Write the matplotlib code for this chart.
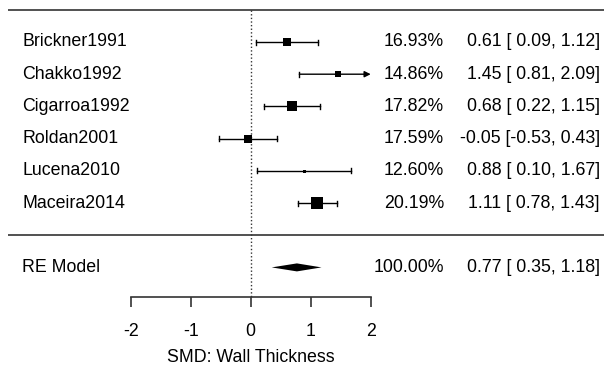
"""
Forest plot - SMD: Wall Thickness
"""
import matplotlib
matplotlib.use('Agg')

import matplotlib.pyplot as plt

plt.rcParams['font.family'] = ['Liberation Sans', 'DejaVu Sans']

# data
studies = ['Brickner1991', 'Chakko1992', 'Cigarroa1992', 'Roldan2001', 'Lucena2010', 'Maceira2014']
smd = [0.61, 1.45, 0.68, -0.05, 0.88, 1.11]
ci_lo = [0.09, 0.81, 0.22, -0.53, 0.10, 0.78]
ci_hi = [1.12, 2.09, 1.15, 0.43, 1.67, 1.43]
weights = [16.93, 14.86, 17.82, 17.59, 12.60, 20.19]
re_est, re_lo, re_hi, re_weight = 0.77, 0.35, 1.18, 100.00
xticks = [-2, -1, 0, 1, 2]

FS = 12.8
ROW_PX = 32.2

fig = plt.figure(figsize=(6.04, 3.71), dpi=100)
ax = fig.add_axes([0, 0, 1, 1])
ax.set_xlim(-250.7 / 60, (604 - 250.7) / 60)
ax.set_ylim(1 - (371 - 203) / ROW_PX, 1 + 203 / ROW_PX)
for s in ['top', 'left', 'right']:
    ax.spines[s].set_visible(False)
ax.set_yticks([])

axis_y = 1 - (297.3 - 203) / ROW_PX
tr = ax.get_yaxis_transform()  # x in axes fraction, y in data

# header / separator lines
for yy in [7, 0]:
    ax.plot([8 / 604, 1], [yy, yy], color='#333333', lw=1.2, transform=tr, solid_capstyle='butt')

# reference line at 0
ax.plot([0, 0], [7, axis_y], color='#333333', lw=1.0, linestyle=(0, (1, 1.6)))

rows = list(range(len(studies), 0, -1))
wmin, wmax = min(weights), max(weights)
cap = 2.5 / ROW_PX
for r, name, est, lo, hi, w in zip(rows, studies, smd, ci_lo, ci_hi, weights):
    hi_draw = min(hi, xticks[-1])
    if hi > xticks[-1]:
        ax.annotate('', xy=(hi_draw, r), xytext=(lo, r),
                    arrowprops=dict(arrowstyle='-|>', color='black', lw=1.0,
                                    mutation_scale=9, shrinkA=0, shrinkB=0))
    else:
        ax.plot([lo, hi], [r, r], color='black', lw=1.0)
        ax.plot([hi, hi], [r - cap, r + cap], color='black', lw=1.0)
    ax.plot([lo, lo], [r - cap, r + cap], color='black', lw=1.0)
    px = 3 + 9 * (w - wmin) / (wmax - wmin)
    ax.plot(est, r, marker='s', color='black', ms=px * 0.72, mew=0)

    ax.text(22 / 604, r, name, transform=tr, ha='left', va='center', fontsize=FS)
    ax.text(444 / 604, r, f'{w:.2f}%', transform=tr, ha='right', va='center', fontsize=FS)
    ax.text(600 / 604, r, f'{est:.2f} [{lo:5.2f}, {hi:.2f}]', transform=tr,
            ha='right', va='center', fontsize=FS)

# RE model diamond
re_row = -1
dh = 4 / ROW_PX
ax.fill([re_lo, re_est, re_hi, re_est], [re_row, re_row + dh, re_row, re_row - dh],
        color='black', lw=0)
ax.text(22 / 604, re_row, 'RE Model', transform=tr, ha='left', va='center', fontsize=FS)
ax.text(444 / 604, re_row, f'{re_weight:.2f}%', transform=tr, ha='right', va='center', fontsize=FS)
ax.text(600 / 604, re_row, f'{re_est:.2f} [{re_lo:5.2f}, {re_hi:.2f}]', transform=tr,
        ha='right', va='center', fontsize=FS)

# x axis
ax.spines['bottom'].set_position(('data', axis_y))
ax.spines['bottom'].set_bounds(xticks[0], xticks[-1])
ax.spines['bottom'].set_linewidth(1.2)
ax.spines['bottom'].set_color('#333333')
ax.set_xticks(xticks)
ax.set_xticklabels([str(t) for t in xticks], fontsize=FS)
ax.tick_params(axis='x', direction='out', length=7.2, width=1.2, color='#333333', pad=11)

ax.text(0, 1 - (358 - 203) / ROW_PX, 'SMD: Wall Thickness', ha='center', va='center', fontsize=FS)

fig.savefig('out.png', dpi=100, facecolor='white')
